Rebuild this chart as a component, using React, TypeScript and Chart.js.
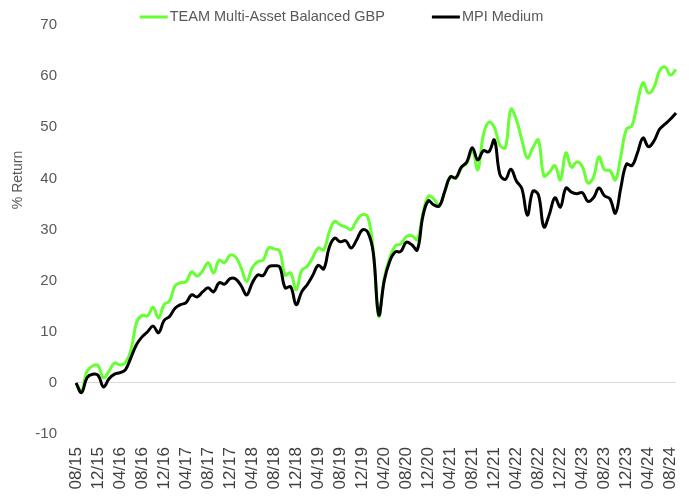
import React, { useEffect, useRef } from "react";
import { Chart, registerables } from "chart.js";

Chart.register(...registerables);

const months: string[] = [
  "08/15", "09/15", "10/15", "11/15", "12/15",
  "01/16", "02/16", "03/16", "04/16", "05/16", "06/16", "07/16", "08/16", "09/16", "10/16", "11/16", "12/16",
  "01/17", "02/17", "03/17", "04/17", "05/17", "06/17", "07/17", "08/17", "09/17", "10/17", "11/17", "12/17",
  "01/18", "02/18", "03/18", "04/18", "05/18", "06/18", "07/18", "08/18", "09/18", "10/18", "11/18", "12/18",
  "01/19", "02/19", "03/19", "04/19", "05/19", "06/19", "07/19", "08/19", "09/19", "10/19", "11/19", "12/19",
  "01/20", "02/20", "03/20", "04/20", "05/20", "06/20", "07/20", "08/20", "09/20", "10/20", "11/20", "12/20",
  "01/21", "02/21", "03/21", "04/21", "05/21", "06/21", "07/21", "08/21", "09/21", "10/21", "11/21", "12/21",
  "01/22", "02/22", "03/22", "04/22", "05/22", "06/22", "07/22", "08/22", "09/22", "10/22", "11/22", "12/22",
  "01/23", "02/23", "03/23", "04/23", "05/23", "06/23", "07/23", "08/23", "09/23", "10/23", "11/23", "12/23",
  "01/24", "02/24", "03/24", "04/24", "05/24", "06/24", "07/24", "08/24", "09/24",
];

const teamValues: number[] = [
  0, -1.6, 2.3, 3.3, 3.4, 1.0, 2.3, 3.9, 3.5, 4.0,
  6.5, 11.8, 13.2, 13.1, 14.8, 12.7, 15.3, 16.0, 19.0, 19.6,
  19.8, 21.7, 20.9, 21.9, 23.5, 21.5, 24.0, 23.5, 25.0, 24.6,
  22.5, 19.8, 22.5, 23.7, 24.0, 26.4, 26.2, 25.8, 21.1, 21.5,
  18.2, 22.0, 22.8, 24.5, 26.4, 26.0, 29.5, 31.6, 30.9, 30.5,
  30.0, 31.8, 32.9, 32.5, 26.0, 13.0, 20.5, 24.5, 26.8, 27.2,
  28.6, 28.8, 28.0, 33.0, 36.5, 36.0, 34.6, 37.5, 40.3, 40.0,
  42.0, 43.0, 45.5, 41.7, 48.5, 51.0, 50.0, 46.5, 46.0, 53.5,
  51.5, 47.5, 44.0, 46.0, 47.5, 40.5, 41.2, 42.5, 39.7, 45.0,
  42.2, 43.2, 42.3, 39.1, 40.2, 44.2, 41.7, 41.5, 39.7, 44.5,
  49.6, 50.3, 54.8, 58.7, 56.7, 57.8, 61.0, 61.8, 60.2, 61.3,
];

const mpiValues: number[] = [
  0, -1.9, 1.0, 1.7, 1.5, -0.8, 0.8, 1.7, 2.0, 2.6,
  5.0, 7.5, 9.0, 10.0, 11.1, 9.8, 12.2, 13.0, 14.6, 15.3,
  15.7, 17.2, 16.8, 17.8, 18.6, 17.8, 19.6, 19.3, 20.4, 20.3,
  19.0, 17.2, 19.5, 21.1, 21.0, 22.7, 22.9, 22.7, 18.6, 18.8,
  15.3, 17.8, 19.2, 21.0, 23.0, 22.3, 26.5, 28.3, 27.6, 27.8,
  26.4, 28.0, 29.9, 29.5, 25.5, 13.3, 20.0, 23.8, 25.6, 25.7,
  27.5, 27.0, 26.0, 32.5, 35.6, 34.8, 34.6, 37.5, 40.3, 40.1,
  42.2, 43.2, 46.0, 43.6, 45.4, 45.2, 47.5, 40.8, 39.8, 41.8,
  39.5, 38.0, 32.8, 37.5, 36.8, 30.5, 33.0, 36.2, 34.4, 38.1,
  37.3, 37.0, 37.2, 35.5, 36.2, 38.1, 36.6, 36.0, 33.2, 38.3,
  42.8, 42.5, 45.0, 47.9, 46.2, 47.3, 49.6, 50.6, 51.6, 52.8,
];

const seriesNames = ["TEAM Multi-Asset Balanced GBP", "MPI Medium"];
const seriesColors = ["#66ff33", "#000000"];
const yTitle = "% Return";

const FONT = "'Liberation Sans', Arial, sans-serif";

const customLegendPlugin = {
  id: "customLegend",
  afterDraw(chart: any) {
    const ctx = chart.ctx as CanvasRenderingContext2D;
    ctx.save();
    ctx.font = `14.5px ${FONT}`;
    ctx.textBaseline = "middle";
    ctx.textAlign = "left";
    const lineW = 28;
    const gapText = 2;
    const gapItems = 47;
    const widths = seriesNames.map((n) => lineW + gapText + ctx.measureText(n).width);
    const total = widths.reduce((a, b) => a + b, 0) + gapItems * (seriesNames.length - 1);
    let x = chart.width / 2 - 3 - total / 2;
    const y = 17;
    seriesNames.forEach((n, i) => {
      ctx.fillStyle = seriesColors[i];
      ctx.fillRect(x, y - 1.5, lineW, 3);
      ctx.fillStyle = "#595959";
      ctx.fillText(n, x + lineW + gapText, y);
      x += widths[i] + gapItems;
    });
    // y axis title
    ctx.font = `14px ${FONT}`;
    ctx.translate(18, 180);
    ctx.rotate(-Math.PI / 2);
    ctx.textAlign = "center";
    ctx.fillStyle = "#595959";
    ctx.fillText(yTitle, 0, 0);
    ctx.restore();
  },
};

export default function App() {
  const canvasRef = useRef<HTMLCanvasElement | null>(null);

  useEffect(() => {
    document.body.style.margin = "0";
    const canvas = canvasRef.current;
    if (!canvas) return;
    Chart.defaults.font.family = FONT;
    const chart = new Chart(canvas, {
      type: "line",
      data: {
        labels: months,
        datasets: [
          {
            label: seriesNames[0],
            data: teamValues,
            borderColor: seriesColors[0],
            backgroundColor: seriesColors[0],
            borderWidth: 3,
            pointRadius: 0,
            tension: 0.4,
            order: 1,
          },
          {
            label: seriesNames[1],
            data: mpiValues,
            borderColor: seriesColors[1],
            backgroundColor: seriesColors[1],
            borderWidth: 3,
            pointRadius: 0,
            tension: 0.4,
            order: 0,
          },
        ],
      },
      options: {
        animation: false,
        responsive: false,
        layout: { padding: { top: 25, right: 13, bottom: 0, left: 0 } },
        plugins: {
          legend: { display: false },
          tooltip: { enabled: false },
        },
        scales: {
          x: {
            afterFit: (scale: any) => {
              scale.height = 64;
              scale.paddingLeft = 0;
              scale.paddingRight = 0;
            },
            grid: { display: false, drawTicks: false },
            border: { display: false },
            ticks: {
              autoSkip: false,
              maxRotation: 90,
              minRotation: 90,
              padding: 13,
              color: "#404040",
              font: { size: 17, family: FONT },
              callback: (_v: any, i: number) => (i % 4 === 0 ? months[i] : null),
            },
          },
          y: {
            min: -10,
            max: 70,
            afterFit: (scale: any) => {
              scale.width = 76;
              scale.paddingTop = 0;
              scale.paddingBottom = 0;
            },
            grid: {
              drawTicks: false,
              color: (c: any) => (c.tick && c.tick.value === 0 ? "#d9d9d9" : "rgba(0,0,0,0)"),
              lineWidth: 1,
            },
            border: { display: false },
            ticks: {
              stepSize: 10,
              padding: 19,
              color: "#595959",
              font: { size: 15, family: FONT },
            },
          },
        },
      },
      plugins: [customLegendPlugin],
    });
    return () => chart.destroy();
  }, []);

  return (
    <div style={{ width: 689, height: 498 }}>
      <canvas ref={canvasRef} width={689} height={498} />
    </div>
  );
}
